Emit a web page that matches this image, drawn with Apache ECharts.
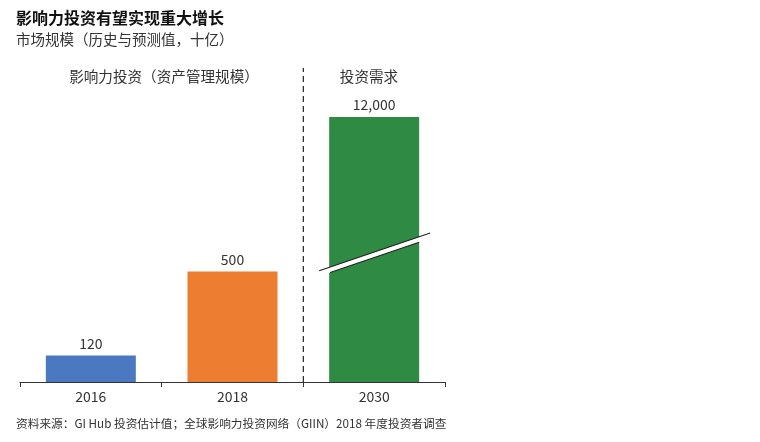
<!DOCTYPE html>
<html><head><meta charset="utf-8">
<script src="https://cdn.jsdelivr.net/npm/echarts@6/dist/echarts.min.js"></script>
<style>html,body{margin:0;padding:0;background:#fff}#c{width:760px;height:442px}</style>
</head><body><div id="c"></div>
<script>
var categories = ['2016', '2018', '2030'];
var values = [120, 500, 12000];
var barColors = ['#4a78c1', '#ed7d31', '#2f8a43'];
var breakStart = 575;
var breakEnd = 11375;
var titleText = '影响力投资有望实现重大增长';
var subtitleText = '市场规模（历史与预测值，十亿）';
var leftSection = '影响力投资（资产管理规模）';
var rightSection = '投资需求';
var sourceText = '资料来源：GI Hub 投资估计值；全球影响力投资网络（GIIN）2018 年度投资者调查';

var FONT = '"Noto Sans CJK SC", "Noto Sans", sans-serif';
var chart = echarts.init(document.getElementById('c'), null, {renderer: 'canvas'});

chart.setOption({
  animation: false,
  backgroundColor: '#fff',
  textStyle: {fontFamily: FONT},
  title: [
    {text: titleText, left: 11, top: 5, textStyle: {fontSize: 16, fontWeight: 'bold', color: '#111', fontFamily: FONT}},
    {text: subtitleText, left: 11, top: 27, textStyle: {fontSize: 14.5, fontWeight: 'normal', color: '#333', fontFamily: FONT}},
    {text: leftSection, left: 159, top: 64, textAlign: 'center', textStyle: {fontSize: 14.6, fontWeight: 'normal', color: '#333', fontFamily: FONT}},
    {text: rightSection, left: 364, top: 64, textAlign: 'center', textStyle: {fontSize: 14.6, fontWeight: 'normal', color: '#333', fontFamily: FONT}},
    {text: sourceText, left: 11, top: 413, textStyle: {fontSize: 11.7, fontWeight: 'normal', color: '#333', fontFamily: FONT}}
  ],
  grid: {left: 20, right: 315, top: 117, bottom: 60, containLabel: false},
  xAxis: {
    type: 'category',
    data: categories,
    axisLine: {lineStyle: {color: '#333', width: 1.2}},
    axisTick: {show: true, length: 5, inside: false, lineStyle: {color: '#333'}},
    axisLabel: {fontSize: 14, color: '#333', margin: 8, fontFamily: FONT}
  },
  yAxis: {
    type: 'value',
    min: 0,
    max: 12000,
    show: false,
    splitLine: {show: false},
    breaks: [{start: breakStart, end: breakEnd, gap: 0}],
    breakArea: {show: false}
  },
  series: [
    {
      type: 'bar',
      barWidth: 90,
      data: values.map(function (v, i) { return {value: v, itemStyle: {color: barColors[i]}}; }),
      label: {
        show: true, position: 'top', distance: 5, fontSize: 14, color: '#333', fontFamily: FONT,
        formatter: function (p) { return p.value.toLocaleString('en-US'); }
      },
      z: 2
    },
    {
      type: 'custom',
      clip: false,
      z: 5,
      data: [[2, breakStart]],
      renderItem: function (params, api) {
        var c = api.coord([api.value(0), api.value(1)]);
        var x = c[0], y = c[1];
        var s = -0.34, g = 5.5;
        function up(dx) { return [x + dx, y - 3 + dx * s]; }
        function lo(dx) { return [x + dx, y - 3 + g + dx * s]; }
        return {
          type: 'group',
          children: [
            {type: 'polygon', shape: {points: [up(-46), up(46), lo(46), lo(-46)]}, style: {fill: '#fff'}},
            {type: 'line', shape: {x1: up(-55)[0], y1: up(-55)[1], x2: up(56)[0], y2: up(56)[1]}, style: {stroke: '#222', lineWidth: 1.2}},
            {type: 'line', shape: {x1: lo(-44)[0], y1: lo(-44)[1], x2: lo(45)[0], y2: lo(45)[1]}, style: {stroke: '#222', lineWidth: 1.2}}
          ]
        };
      }
    },
    {
      type: 'custom',
      clip: false,
      z: 1,
      data: [[1, 0]],
      renderItem: function (params, api) {
        var a = api.coord([1, 0]);
        var b = api.coord([2, 0]);
        var xm = (a[0] + b[0]) / 2;
        return {
          type: 'line',
          shape: {x1: xm, y1: a[1], x2: xm, y2: params.coordSys.y - 49},
          style: {stroke: '#222', lineWidth: 1.2, lineDash: [6, 4]}
        };
      }
    }
  ]
});
</script>
</body></html>
